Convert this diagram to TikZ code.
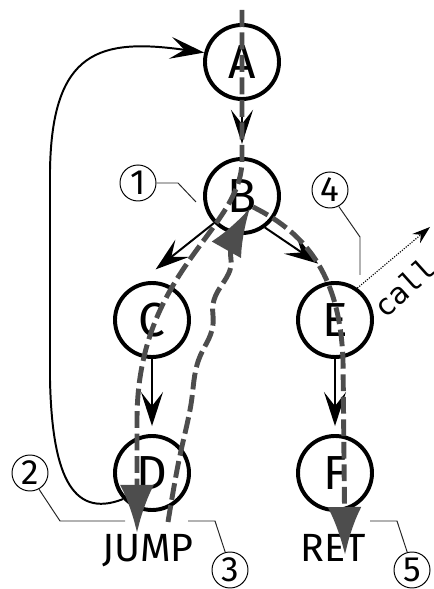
\documentclass[tikz,border=0pt]{standalone}
\usepackage{fontspec}
\setmainfont{Fira Sans}
\setmonofont{DejaVu Sans Mono}
\usetikzlibrary{arrows.meta}
\definecolor{tracegray}{RGB}{77,77,77}
\tikzset{
  vertex/.style={circle,draw,line width=2.8pt,minimum size=1.85cm,inner sep=0pt,font=\fontsize{34}{34}\selectfont},
  num/.style={circle,draw,line width=0.7pt,minimum size=0.9cm,inner sep=0pt,font=\fontsize{25}{25}\selectfont},
  flow/.style={line width=1.4pt,-{Stealth[length=0.85cm,width=0.55cm,inset=0.35cm]}},
  tracepath/.style={color=tracegray,line width=3.5pt,dash pattern=on 12pt off 4pt,-{Latex[length=1.2cm,width=0.85cm]}},
  lead/.style={line width=0.7pt,color=black!85},
}
\begin{document}
\begin{tikzpicture}
\useasboundingbox (0,0) rectangle (10.825,14.725);
\node[vertex] at (6.05,13.175) (A) {A};
\node[vertex] at (6.05,9.825) (B) {B};
\node[vertex] at (3.8,6.725) (C) {C};
\node[vertex] at (3.8,2.9) (D) {D};
\node[vertex] at (8.375,6.725) (E) {E};
\node[vertex] at (8.375,2.9) (F) {F};
\node[anchor=base,font=\fontsize{28}{28}\selectfont] at (3.7,0.675) (jump) {JUMP};
\node[anchor=base,font=\fontsize{28}{28}\selectfont] at (8.325,0.675) (ret) {RET};
\node[num] at (3.45,10.15) (n1) {1};
\node[num] at (0.75,2.9) (n2) {2};
\node[num] at (5.75,0.475) (n3) {3};
\node[num] at (8.25,9.975) (n4) {4};
\node[num] at (10.3,0.475) (n5) {5};
\node[rotate=42,font=\ttfamily\fontsize{21}{21}\selectfont] at (10.1,7.55) (call) {call};
\coordinate (out) at (10.75,9.05);
\draw[flow,shorten >=0.33cm] (A) -- (B);
\draw[flow,shorten >=0.58cm] (B.-136) -- (C.112);
\draw[flow,shorten >=0.85cm] (B.-54) -- (E.73);
\draw[flow,shorten >=0.2cm] (C) -- (D);
\draw[flow,shorten >=0.2cm] (E) -- (F);
\draw[flow] (D.-138) .. controls (1.75,1.725) and (1.3,2.975) .. (1.25,5.225) -- (1.25,10.475) .. controls (1.3,13.475) and (2.5,13.775) .. (A.166);
\draw[densely dotted,line width=0.8pt,-{Stealth[length=0.45cm,width=0.3cm,inset=0.15cm]}] (E.55) -- (out);
\draw[lead] (n1.east) -- (4.45,10.15) -- (4.9,9.675);
\draw[lead] (n2.-61) -- (1.5,1.7) -- (3.125,1.7);
\draw[lead] (4.7,1.7) -- (5.375,1.7) -- (n3.105);
\draw[lead] (n4.-62) -- (9.0,8.8) -- (9.0,7.85);
\draw[lead] (9.25,1.7) -- (9.925,1.7) -- (n5.105);
\draw[tracepath] (6.05,14.475) -- (6.05,10.725) .. controls (6.05,8.975) and (3.425,7.975) .. (3.425,4.225) -- (3.425,1.4);
\draw[tracepath] plot[smooth,tension=0.7] coordinates {(4.2,1.675) (4.45,3.1) (4.75,4.475) (4.925,5.6) (5.3,6.475) (5.35,7.225) (5.75,7.975) (5.8,8.6) (6.25,9.525)};
\draw[tracepath] (6.325,9.55) .. controls (7.75,8.85) and (8.5,7.725) .. (8.575,5.725) -- (8.625,0.85);
\end{tikzpicture}
\end{document}
